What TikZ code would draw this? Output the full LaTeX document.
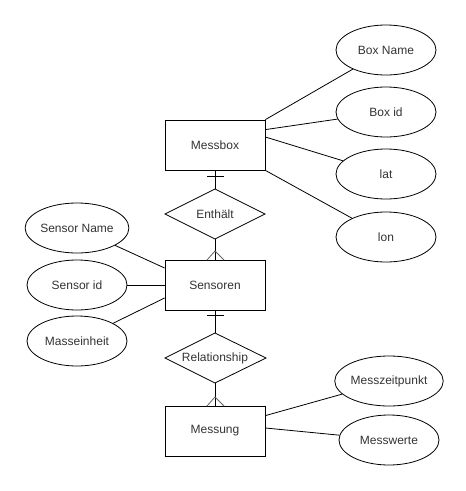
\documentclass[tikz,border=0pt]{standalone}
\usepackage{fontspec}
\setmainfont{Liberation Sans}
\usetikzlibrary{shapes.geometric}
\begin{document}
\begin{tikzpicture}[x=1pt,y=-1pt,
  every node/.style={font=\fontsize{12}{14}\selectfont, text=black!80, line width=0.8pt},
  entity/.style={draw, rectangle, minimum width=100pt, minimum height=50pt, inner sep=0pt},
  attr/.style={draw, ellipse, minimum width=100pt, minimum height=50pt, inner sep=0pt},
  conn/.style={draw, line width=0.8pt},
  crow/.style={draw=black!60, line width=0.8pt}]
\useasboundingbox (0,0) rectangle (466,491);
% entities
\node[entity] (messbox) at (215,145) {Messbox};
\node[entity] (sensoren) at (215,285) {Sensoren};
\node[entity] (messung) at (215,431) {Messung};
% relationships
\path (215,189) coordinate (et) (265,214) coordinate (er) (215,239) coordinate (eb) (165,214) coordinate (el);
\draw[line width=0.8pt] (et) -- (er) -- (eb) -- (el) -- cycle;
\node (enthl) at (215,214) {Enthält};
\path (215,333) coordinate (rt) (266,358) coordinate (rr) (215,383) coordinate (rb) (165,358) coordinate (rl);
\draw[line width=0.8pt] (rt) -- (rr) -- (rb) -- (rl) -- cycle;
\node (relnl) at (215,358) {Relationship};
% attributes
\node[attr] (boxname) at (386,50) {Box Name};
\node[attr] (boxid) at (386,112) {Box id};
\node[attr] (lat) at (386,174) {lat};
\node[attr] (lon) at (386,237) {lon};
\node[attr] (sname) at (77,228) {Sensor Name};
\node[attr] (sid) at (77,285) {Sensor id};
\node[attr] (mass) at (77,341) {Masseinheit};
\node[attr] (mzeit) at (389,381) {Messzeitpunkt};
\node[attr] (mwert) at (389,440) {Messwerte};
% attribute connectors
\draw[conn] (messbox.north east) -- (boxname);
\draw[conn] ([yshift=-10pt]messbox.north east) -- (boxid);
\draw[conn] ([yshift=8pt]messbox.east) -- (lat);
\draw[conn] (messbox.south east) -- (lon);
\draw[conn] (sensoren.west |- 0,268) -- (sname);
\draw[conn] (sensoren.west) -- (sid);
\draw[conn] (sensoren.west |- 0,298) -- (mass);
\draw[conn] ([yshift=-10pt]messung.north east) -- (mzeit);
\draw[conn] ([yshift=3pt]messung.east) -- (mwert);
% relationship connectors
\draw[conn] (messbox.south) -- (et);
\draw[conn] (207,176) -- (224,176);
\draw[conn] (eb) -- (sensoren.north);
\draw[crow] (207,260) -- (215,251) -- (224,260);
\draw[conn] (sensoren.south) -- (rt);
\draw[conn] (207,315) -- (224,315);
\draw[conn] (rb) -- (messung.north);
\draw[crow] (207,406) -- (215,397) -- (224,406);
\end{tikzpicture}
\end{document}
